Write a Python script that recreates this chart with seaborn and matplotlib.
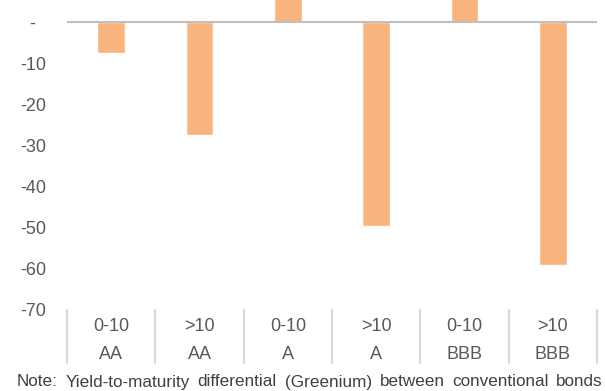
import matplotlib
matplotlib.use("Agg")
import matplotlib.pyplot as plt
import pandas as pd
import seaborn as sns

# Greenium by maturity bucket and rating (bp)
maturity = ["0-10", ">10", "0-10", ">10", "0-10", ">10"]
rating = ["AA", "AA", "A", "A", "BBB", "BBB"]
greenium = [-7.4, -27.4, 9.0, -49.6, 8.0, -59.0]
y_ticks = [-70, -60, -50, -40, -30, -20, -10, 0]
y_tick_labels = ["-70", "-60", "-50", "-40", "-30", "-20", "-10", "-  "]
note = "Note: Yield-to-maturity differential (Greenium) between conventional bonds"

sns.set_style("white")
plt.rcParams["font.family"] = ["Liberation Sans", "DejaVu Sans"]

labels = [f"{m}\n{r}" for m, r in zip(maturity, rating)]
df = pd.DataFrame({"bucket": labels, "greenium": greenium})

fig = plt.figure(figsize=(6.05, 3.91), dpi=100)
ax = fig.add_axes([67 / 605, 81 / 391, 530 / 605, 310 / 391])

sns.barplot(data=df, x="bucket", y="greenium", color="#F9B47D",
            saturation=1, width=0.31, ax=ax)

ax.set_ylim(-70, 5.43)
ax.set_xlim(-0.5, len(labels) - 0.5)
for s in ax.spines.values():
    s.set_visible(False)
ax.axhline(0, color="#BFBFBF", lw=1.5, zorder=3)

text_color = "#595959"
fs = 13
ax.set_yticks(y_ticks)
ax.set_yticklabels(y_tick_labels, fontsize=fs, color=text_color)
ax.tick_params(axis="y", length=0, pad=15)
ax.set_xticks(range(len(labels)))
ax.set_xticklabels(labels, fontsize=fs, color=text_color, linespacing=1.85)
ax.tick_params(axis="x", length=0, pad=6)
ax.set_xlabel("")
ax.set_ylabel("")

# Category separators under the plot area
for i in range(len(labels) + 1):
    ax.plot([i - 0.5, i - 0.5], [-70, -83], color="#D9D9D9", lw=1.5,
            clip_on=False, zorder=1)

# Justified footnote
fig.canvas.draw()
renderer = fig.canvas.get_renderer()
words = note.split(" ")
left_px, right_px, bottom_px = 17, 603, 1.5
texts = [fig.text(0, 0, w, fontsize=12.3, color="#404040", va="bottom")
         for w in words]
widths = [t.get_window_extent(renderer).width for t in texts]
gap = (right_px - left_px - sum(widths)) / (len(words) - 1)
x = left_px
for t, w in zip(texts, widths):
    t.set_position((x / 605, bottom_px / 391))
    x += w + gap

fig.savefig("out.png", dpi=100, facecolor="white")
